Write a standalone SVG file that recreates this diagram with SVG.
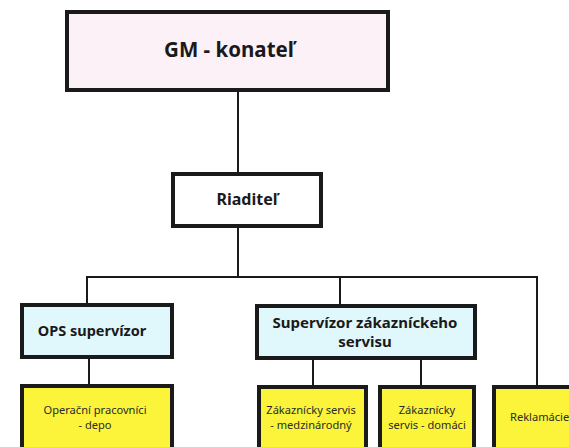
<svg xmlns="http://www.w3.org/2000/svg" width="569" height="447" viewBox="0 0 569 447">
<style>
.box{stroke:#1a1a1a;stroke-width:4}
.pink{fill:#fdf1f8}
.white{fill:#ffffff}
.cyan{fill:#e0f7fb}
.yellow{fill:#fbf43a}
.conn{stroke:#1a1a1a;stroke-width:2;fill:none}
.t{font-family:"Noto Sans","Open Sans",sans-serif;font-weight:bold;fill:#1a1a1a;text-anchor:middle}
.s{font-family:"Noto Sans","Open Sans",sans-serif;font-size:11.1px;fill:#2a2a2a;text-anchor:middle}
</style>
<rect width="569" height="447" fill="#ffffff"/>
<g id="connectors">
<path class="conn" d="M238,89 V173"/>
<path class="conn" d="M238,226 V277"/>
<path class="conn" d="M87,305 V277 H537 V387"/>
<path class="conn" d="M340,277 V306"/>
<path class="conn" d="M89,357 V386"/>
<path class="conn" d="M313,358 V387"/>
<path class="conn" d="M421,358 V387"/>
</g>
<g id="gm">
<rect class="box pink" x="67" y="12" width="321" height="78"/>
<text class="t" x="229" y="57" font-size="20.5">GM - konateľ</text>
</g>
<g id="riaditel">
<rect class="box white" x="173" y="174" width="148" height="52"/>
<text class="t" x="247" y="205" font-size="16">Riaditeľ</text>
</g>
<g id="ops">
<rect class="box cyan" x="22" y="305" width="150" height="52"/>
<text class="t" x="92" y="336" font-size="14.5">OPS supervízor</text>
</g>
<g id="supervizor">
<rect class="box cyan" x="257" y="306" width="218" height="52"/>
<text class="t" x="365" y="328" font-size="15">Supervízor zákazníckeho</text>
<text class="t" x="365" y="347" font-size="15">servisu</text>
</g>
<g id="operacni">
<rect class="box yellow" x="22" y="386" width="150" height="70"/>
<text class="s" x="95" y="414">Operační pracovníci</text>
<text class="s" x="95" y="428.5">- depo</text>
</g>
<g id="zak-medz">
<rect class="box yellow" x="259" y="387" width="107" height="70"/>
<text class="s" x="311" y="414">Zákaznícky servis</text>
<text class="s" x="311" y="428.5">- medzinárodný</text>
</g>
<g id="zak-dom">
<rect class="box yellow" x="380" y="387" width="94" height="70"/>
<text class="s" x="427" y="414">Zákaznícky</text>
<text class="s" x="427" y="428.5">servis - domáci</text>
</g>
<g id="reklamacie">
<rect class="box yellow" x="494" y="387" width="100" height="70"/>
<text class="s" x="510" y="421" style="text-anchor:start">Reklamácie</text>
</g>
</svg>
